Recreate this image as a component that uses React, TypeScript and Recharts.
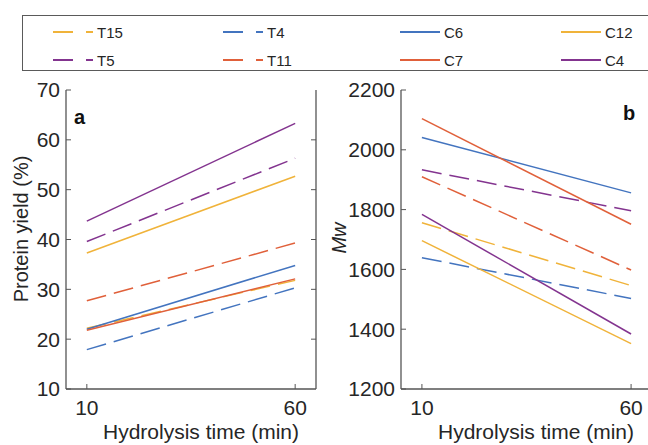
import { LineChart, Line, XAxis, YAxis, Label, ReferenceLine } from 'recharts';

// values at 10 and 60 min
const hydrolysisTime = [10, 60];
const seriesNames = ['T15', 'T4', 'C6', 'C12', 'T5', 'T11', 'C7', 'C4'];
const yieldAt10 = [22.2, 17.9, 22.0, 37.3, 39.6, 27.7, 21.8, 43.7];
const yieldAt60 = [31.8, 30.3, 34.8, 52.7, 56.3, 39.3, 32.1, 63.3];
const mwAt10 = [1756, 1639, 2041, 1696, 1933, 1910, 2104, 1784];
const mwAt60 = [1546, 1503, 1856, 1352, 1796, 1598, 1751, 1384];
const timeTicks = [10, 60];
const timeDomain = [5, 65];
const yieldTicks = [10, 20, 30, 40, 50, 60, 70];
const mwTicks = [1200, 1400, 1600, 1800, 2000, 2200];

const BLUE = '#4374bf';
const ORANGE = '#e0603a';
const YELLOW = '#f0b33a';
const PURPLE = '#83348f';
const seriesColor: Record<string, string> = {
  T15: YELLOW, T4: BLUE, C6: BLUE, C12: YELLOW,
  T5: PURPLE, T11: ORANGE, C7: ORANGE, C4: PURPLE,
};
const isDashed = (name: string) => name.startsWith('T');

const AXIS = '#555';
const TXT = '#262626';

const buildRows = (at10: number[], at60: number[]) =>
  hydrolysisTime.map((t, i) => {
    const row: Record<string, number> = { t };
    seriesNames.forEach((n, j) => {
      row[n] = (i === 0 ? at10 : at60)[j];
    });
    return row;
  });

interface PanelProps {
  at10: number[];
  at60: number[];
  yTicks: number[];
  width: number;
  yWidth: number;
  right: number;
  letter: string;
  letterX: number;
  letterY: number;
  yTitle: string;
  yTitleX: number;
  yTitleY: number;
  italic?: boolean;
  xTitleX: number;
  rightTicks?: boolean;
}

const Panel = (p: PanelProps) => {
  const data = buildRows(p.at10, p.at60);
  const yDomain = [p.yTicks[0], p.yTicks[p.yTicks.length - 1]];
  const xMax = timeDomain[1];
  // right-hand frame ticks, 5px long, pointing inward
  const plotW = p.width - p.yWidth - p.right;
  const tickLen = ((timeDomain[1] - timeDomain[0]) / plotW) * 5;
  return (
    <LineChart
      width={p.width}
      height={445}
      data={data}
      margin={{ top: 90, right: p.right, bottom: 0, left: 0 }}
    >
      <XAxis
        xAxisId="b"
        dataKey="t"
        type="number"
        domain={timeDomain}
        ticks={timeTicks}
        interval={0}
        tickSize={-5}
        tickMargin={16}
        height={56}
        axisLine={{ stroke: AXIS, strokeWidth: 1.3 }}
        tickLine={{ stroke: AXIS }}
        tick={{ fontSize: 21, fill: TXT }}
      >
        <Label
          content={() => (
            <g>
              <text x={p.xTitleX} y={439} textAnchor="middle" fontSize={21} fill={TXT}>
                Hydrolysis time (min)
              </text>
              <text x={p.letterX} y={p.letterY} fontSize={20} fontWeight="bold" fill="#111">
                {p.letter}
              </text>
            </g>
          )}
        />
      </XAxis>
      <XAxis
        xAxisId="t"
        orientation="top"
        type="number"
        domain={timeDomain}
        ticks={timeTicks}
        interval={0}
        height={0}
        tick={false}
        tickSize={-5}
        axisLine={{ stroke: AXIS, strokeWidth: 1.3 }}
        tickLine={{ stroke: AXIS }}
      />
      <YAxis
        yAxisId="l"
        domain={yDomain}
        ticks={p.yTicks}
        interval={0}
        tickSize={-5}
        tickMargin={11}
        width={p.yWidth}
        axisLine={{ stroke: AXIS, strokeWidth: 1.3 }}
        tickLine={{ stroke: AXIS }}
        tick={{ fontSize: 21, fill: TXT }}
      >
        <Label
          content={() => (
            <text
              x={p.yTitleX}
              y={p.yTitleY}
              dy="0.35em"
              transform={`rotate(-90 ${p.yTitleX} ${p.yTitleY})`}
              textAnchor="middle"
              fontSize={20}
              fontStyle={p.italic ? 'italic' : 'normal'}
              fill={TXT}
            >
              {p.yTitle}
            </text>
          )}
        />
      </YAxis>
      <ReferenceLine xAxisId="b" yAxisId="l" x={xMax} stroke={AXIS} strokeWidth={1.3} />
      {p.rightTicks &&
        p.yTicks.slice(1, -1).map(v => (
          <ReferenceLine
            key={v}
            xAxisId="b"
            yAxisId="l"
            segment={[{ x: xMax - tickLen, y: v }, { x: xMax, y: v }]}
            stroke={AXIS}
          />
        ))}
      {seriesNames.map(name => (
        <Line
          key={name}
          xAxisId="b"
          yAxisId="l"
          dataKey={name}
          stroke={seriesColor[name]}
          strokeWidth={1.5}
          strokeDasharray={isDashed(name) ? '20 8' : undefined}
          dot={false}
          activeDot={false}
          isAnimationActive={false}
        />
      ))}
    </LineChart>
  );
};

const legendCols = [53, 223, 400, 561];
const legendRows = [32, 60];

export default function App() {
  return (
    <div
      style={{
        position: 'absolute',
        left: 0,
        top: 0,
        width: 648,
        height: 445,
        overflow: 'hidden',
        background: '#fff',
        fontFamily: '"Liberation Sans", Arial, sans-serif',
      }}
    >
      <div
        style={{
          position: 'absolute',
          left: 22,
          top: 15,
          width: 640,
          height: 56,
          border: '1.5px solid #5a5a5a',
          boxSizing: 'border-box',
        }}
      />
      {seriesNames.map((name, i) => (
        <div
          key={name}
          style={{
            position: 'absolute',
            left: legendCols[i % 4],
            top: legendRows[Math.floor(i / 4)] - 10,
            height: 20,
            display: 'flex',
            alignItems: 'center',
            fontSize: 15,
            color: TXT,
          }}
        >
          <svg width={40} height={4} style={{ marginRight: 4 }}>
            <line
              x1={0}
              y1={2}
              x2={40}
              y2={2}
              stroke={seriesColor[name]}
              strokeWidth={2}
              strokeDasharray={isDashed(name) ? '20 13' : undefined}
            />
          </svg>
          {name}
        </div>
      ))}
      <div style={{ position: 'absolute', left: 0, top: 0 }}>
        <Panel
          at10={yieldAt10}
          at60={yieldAt60}
          yTicks={yieldTicks}
          width={330}
          yWidth={66}
          right={14}
          letter="a"
          letterX={74}
          letterY={124}
          yTitle="Protein yield (%)"
          yTitleX={20.5}
          yTitleY={229}
          xTitleX={201}
          rightTicks
        />
      </div>
      <div style={{ position: 'absolute', left: 320, top: 0 }}>
        <Panel
          at10={mwAt10}
          at60={mwAt60}
          yTicks={mwTicks}
          width={350}
          yWidth={81}
          right={18}
          letter="b"
          letterX={303}
          letterY={120}
          yTitle="Mw"
          yTitleX={19}
          yTitleY={238}
          italic
          xTitleX={216}
        />
      </div>
    </div>
  );
}
